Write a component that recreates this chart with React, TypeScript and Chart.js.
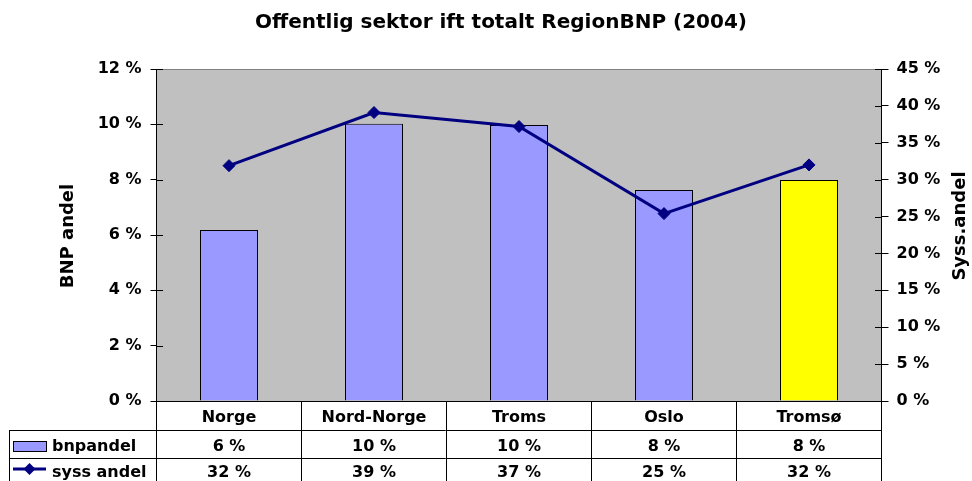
import { useEffect, useRef } from 'react';
import { Chart, registerables } from 'chart.js';

Chart.register(...registerables);

const chartTitle = 'Offentlig sektor ift totalt RegionBNP (2004)';
const leftAxisTitle = 'BNP andel';
const rightAxisTitle = 'Syss.andel';
const categories = ['Norge', 'Nord-Norge', 'Troms', 'Oslo', 'Tromsø'];
const seriesNames = ['bnpandel', 'syss andel'];
const bnpandel = [6.18, 10.02, 9.98, 7.63, 7.99];
const syssAndel = [31.9, 39.1, 37.2, 25.4, 32.0];
const barColors = ['#9999FF', '#9999FF', '#9999FF', '#9999FF', '#FFFF00'];
const leftTicks = { min: 0, max: 12, step: 2 };
const rightTicks = { min: 0, max: 45, step: 5 };

const FONT = "'DejaVu Sans', sans-serif";
const LINE_COLOR = '#000080';

const pct = (v: number) => `${Math.round(v)} %`;

const decorPlugin = {
  id: 'decor',
  beforeDraw(chart: any) {
    const { ctx, chartArea: a } = chart;
    ctx.save();
    ctx.fillStyle = '#C0C0C0';
    ctx.fillRect(a.left, a.top, a.right - a.left, a.bottom - a.top);
    ctx.strokeStyle = '#808080';
    ctx.lineWidth = 1;
    ctx.beginPath();
    ctx.moveTo(a.left, Math.round(a.top) + 0.5);
    ctx.lineTo(a.right, Math.round(a.top) + 0.5);
    ctx.stroke();
    ctx.restore();
  },
  afterDraw(chart: any) {
    const { ctx, chartArea: a, scales } = chart;
    ctx.save();
    // chart title
    ctx.fillStyle = '#000';
    ctx.font = `bold 20px ${FONT}`;
    ctx.textAlign = 'center';
    ctx.textBaseline = 'alphabetic';
    ctx.fillText(chartTitle, 501, 28);

    // axis titles
    ctx.font = `bold 18px ${FONT}`;
    ctx.save();
    ctx.translate(72.5, 236);
    ctx.rotate(-Math.PI / 2);
    ctx.fillText(leftAxisTitle, 0, 0);
    ctx.restore();
    ctx.save();
    ctx.translate(965, 226);
    ctx.rotate(-Math.PI / 2);
    ctx.fillText(rightAxisTitle, 0, 0);
    ctx.restore();

    const L = Math.floor(a.left);
    const R = Math.floor(a.right);
    // inner parts of cross ticks
    ctx.strokeStyle = '#000';
    ctx.lineWidth = 1;
    ctx.beginPath();
    scales.y.ticks.forEach((t: any) => {
      const py = Math.round(scales.y.getPixelForValue(t.value)) + 0.5;
      ctx.moveTo(L, py);
      ctx.lineTo(L + 7, py);
    });
    scales.y2.ticks.forEach((t: any) => {
      const py = Math.round(scales.y2.getPixelForValue(t.value)) + 0.5;
      ctx.moveTo(R - 6, py);
      ctx.lineTo(R, py);
    });
    ctx.stroke();

    // data table
    const n = categories.length;
    const colW = (a.right - a.left) / n;
    const top = Math.round(a.bottom);
    const r1 = 430;
    const r2 = 458;
    const bottom = chart.height + 4;
    const tableLeft = 9;
    ctx.beginPath();
    ctx.moveTo(L, top + 0.5);
    ctx.lineTo(R + 1, top + 0.5);
    ctx.moveTo(tableLeft, r1 + 0.5);
    ctx.lineTo(R + 1, r1 + 0.5);
    ctx.moveTo(tableLeft, r2 + 0.5);
    ctx.lineTo(R + 1, r2 + 0.5);
    ctx.moveTo(tableLeft + 0.5, r1);
    ctx.lineTo(tableLeft + 0.5, bottom);
    for (let i = 0; i <= n; i++) {
      const x = Math.floor(a.left + i * colW) + 0.5;
      ctx.moveTo(x, top);
      ctx.lineTo(x, bottom);
    }
    ctx.stroke();

    ctx.font = `bold 16px ${FONT}`;
    ctx.textAlign = 'center';
    ctx.fillStyle = '#000';
    categories.forEach((c, i) => {
      const cx = scales.x.getPixelForValue(i);
      ctx.fillText(c, cx, 422);
      ctx.fillText(pct(bnpandel[i]), cx, 451);
      ctx.fillText(pct(syssAndel[i]), cx, 477);
    });

    // row labels with legend keys
    ctx.textAlign = 'left';
    ctx.fillText(seriesNames[0], 52, 451);
    ctx.fillText(seriesNames[1], 52, 477);
    ctx.fillStyle = barColors[0];
    ctx.fillRect(13.5, 441.5, 33, 10);
    ctx.strokeRect(13.5, 441.5, 33, 10);
    ctx.strokeStyle = LINE_COLOR;
    ctx.lineWidth = 3;
    ctx.beginPath();
    ctx.moveTo(13, 469);
    ctx.lineTo(46, 469);
    ctx.stroke();
    ctx.fillStyle = LINE_COLOR;
    ctx.beginPath();
    ctx.moveTo(29.5, 463);
    ctx.lineTo(35.5, 469);
    ctx.lineTo(29.5, 475);
    ctx.lineTo(23.5, 469);
    ctx.closePath();
    ctx.fill();

    ctx.restore();
  },
};

export default function App() {
  const ref = useRef<HTMLCanvasElement>(null);
  useEffect(() => {
    if (!ref.current) return;
    const tickFont = { family: FONT, size: 16, weight: 'bold' as const };
    const chart = new Chart(ref.current, {
      type: 'bar',
      data: {
        labels: categories,
        datasets: [
          {
            type: 'line',
            label: seriesNames[1],
            data: syssAndel,
            yAxisID: 'y2',
            borderColor: LINE_COLOR,
            borderWidth: 3,
            pointStyle: 'rectRot',
            pointRadius: 6,
            pointBackgroundColor: LINE_COLOR,
            pointBorderColor: LINE_COLOR,
            pointBorderWidth: 1,
            tension: 0,
            order: 1,
          } as any,
          {
            type: 'bar',
            label: seriesNames[0],
            data: bnpandel,
            yAxisID: 'y',
            backgroundColor: barColors,
            borderColor: '#000',
            borderWidth: 1,
            barPercentage: 0.4,
            categoryPercentage: 1,
            order: 2,
          },
        ],
      },
      options: {
        responsive: false,
        animation: false,
        devicePixelRatio: 1,
        layout: { padding: { top: 69, bottom: 80, left: 0, right: 0 } },
        plugins: {
          legend: { display: false },
          tooltip: { enabled: false },
          title: { display: false },
        },
        scales: {
          x: { type: 'category', display: false, offset: true },
          y: {
            position: 'left',
            min: leftTicks.min,
            max: leftTicks.max,
            ticks: {
              stepSize: leftTicks.step,
              padding: 9,
              color: '#000',
              font: tickFont,
              callback: (v: any) => `${v} %`,
            },
            grid: { drawOnChartArea: false, tickLength: 6, color: '#000', lineWidth: 1 },
            border: { display: true, color: '#000', width: 1 },
            afterFit: (s: any) => {
              s.width = 156.5;
            },
          },
          y2: {
            position: 'right',
            min: rightTicks.min,
            max: rightTicks.max,
            ticks: {
              stepSize: rightTicks.step,
              padding: 8,
              color: '#000',
              font: tickFont,
              callback: (v: any) => `${v} %`,
            },
            grid: { drawOnChartArea: false, tickLength: 7, color: '#000', lineWidth: 1 },
            border: { display: true, color: '#000', width: 1 },
            afterFit: (s: any) => {
              s.width = 90.5;
            },
          },
        },
      },
      plugins: [decorPlugin],
    });
    return () => chart.destroy();
  }, []);
  return (
    <div style={{ position: 'fixed', left: 0, top: 0, width: 972, height: 481, background: '#fff' }}>
      <canvas ref={ref} width={972} height={481} style={{ display: 'block' }} />
    </div>
  );
}
